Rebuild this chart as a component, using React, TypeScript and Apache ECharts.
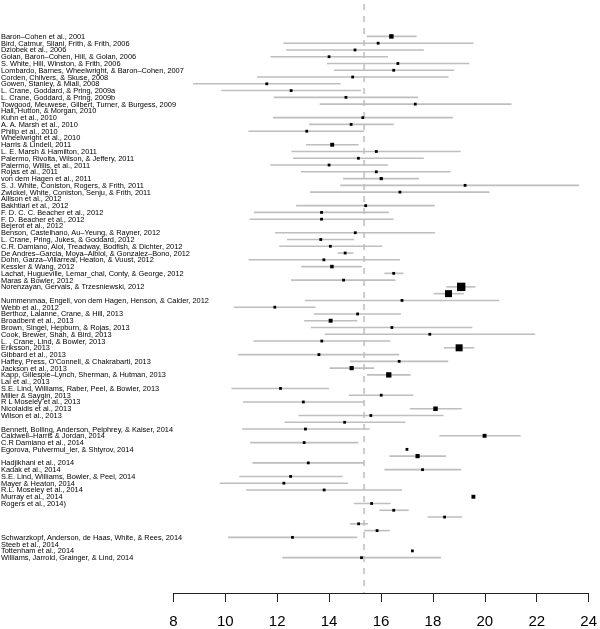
import React, { useEffect, useRef } from "react";
import * as echarts from "echarts";

const studies: string[] = [
  "Baron–Cohen et al., 2001",
  "Bird, Catmur, Silani, Frith, & Frith, 2006",
  "Dziobek et al., 2006",
  "Golan, Baron–Cohen, Hill, & Golan, 2006",
  "S. White, Hill, Winston, & Frith, 2006",
  "Lombardo, Barnes, Wheelwright, & Baron–Cohen, 2007",
  "Corden, Chilvers, & Skuse, 2008",
  "Gowen, Stanley, & Miall, 2008",
  "L. Crane, Goddard, & Pring, 2009a",
  "L. Crane, Goddard, & Pring, 2009b",
  "Towgood, Meuwese, Gilbert, Turner, & Burgess, 2009",
  "Hall, Hutton, & Morgan, 2010",
  "Kuhn et al., 2010",
  "A. A. Marsh et al., 2010",
  "Philip et al., 2010",
  "Wheelwright et al., 2010",
  "Harris & Lindell, 2011",
  "L. E. Marsh & Hamilton, 2011",
  "Palermo, Rivolta, Wilson, & Jeffery, 2011",
  "Palermo, Willis, et al., 2011",
  "Rojas et al., 2011",
  "von dem Hagen et al., 2011",
  "S. J. White, Coniston, Rogers, & Frith, 2011",
  "Zwickel, White, Coniston, Senju, & Frith, 2011",
  "Allison et al., 2012",
  "Bakhtiari et al., 2012",
  "F. D. C. C. Beacher et al., 2012",
  "F. D. Beacher et al., 2012",
  "Bejerot et al., 2012",
  "Benson, Castelhano, Au–Yeung, & Rayner, 2012",
  "L. Crane, Pring, Jukes, & Goddard, 2012",
  "C.R. Damiano, Aloi, Treadway, Bodfish, & Dichter, 2012",
  "De Andres–Garcia, Moya–Albiol, & Gonzalez–Bono, 2012",
  "Dohn, Garza–Villarreal, Heaton, & Vuust, 2012",
  "Kessler & Wang, 2012",
  "Lachat, Hugueville, Lemar_chal, Conty, & George, 2012",
  "Maras & Bowler, 2012",
  "Norenzayan, Gervais, & Trzesniewski, 2012",
  "",
  "Nummenmaa, Engell, von dem Hagen, Henson, & Calder, 2012",
  "Webb et al., 2012",
  "Berthoz, Lalanne, Crane, & Hill, 2013",
  "Broadbent et al., 2013",
  "Brown, Singel, Hepburn, & Rojas, 2013",
  "Cook, Brewer, Shah, & Bird, 2013",
  "L. , Crane, Lind, & Bowler, 2013",
  "Eriksson, 2013",
  "Gibbard et al., 2013",
  "Haffey, Press, O'Connell, & Chakrabarti, 2013",
  "Jackson et al., 2013",
  "Kapp, Gillespie–Lynch, Sherman, & Hutman, 2013",
  "Lai et al., 2013",
  "S.E. Lind, Williams, Raber, Peel, & Bowler, 2013",
  "Miller & Saygin, 2013",
  "R L Moseley et al., 2013",
  "Nicolaidis et al., 2013",
  "Wilson et al., 2013",
  "",
  "Bennett, Bolling, Anderson, Pelphrey, & Kaiser, 2014",
  "Caldwell–Harris & Jordan, 2014",
  "C.R Damiano et al., 2014",
  "Egorova, Pulvermul_ler, & Shtyrov, 2014",
  "",
  "Hadjikhani et al., 2014",
  "Kadak et al., 2014",
  "S.E. Lind, Williams, Bowler, & Peel, 2014",
  "Mayer & Heaton, 2014",
  "R.L. Moseley et al., 2014",
  "Murray et al., 2014",
  "Rogers et al., 2014)",
  "",
  "",
  "",
  "",
  "Schwarzkopf, Anderson, de Haas, White, & Rees, 2014",
  "Steeb et al., 2014",
  "Tottenham et al., 2014",
  "Williams, Jarrold, Grainger, & Lind, 2014",
];

const estimates: (number | null)[] = [
  16.4, 15.89, 15.0, 14.0, 16.65, 16.49, 14.91, 11.6, 12.54, 14.65,
  17.32, null, 15.3, 14.85, 13.14, null, 14.12, 15.82, 15.13, 14.0,
  15.82, 16.01, 19.24, 16.73, null, 15.41, 13.71, 13.71, null, 15.01,
  13.68, 14.05, 14.62, 13.8, 14.11, 16.49, 14.56, 19.09, 18.6, 16.81,
  11.91, 15.1, 14.06, 16.42, 17.88, 13.72, 19.01, 13.61, 16.7, 14.87,
  16.3, null, 12.13, 16.01, 13.01, 18.1, 15.61, 14.6, 13.09, 19.99,
  13.04, 17.0, 17.41, 13.2, 17.6, 12.52, 12.26, 13.81, 19.56, 15.64,
  16.49, 18.45, 15.14, 15.85, 12.59, null, 17.21, 15.25,
];

const lower: (number | null)[] = [
  15.45, 12.24, 12.35, 11.74, 13.92, 14.19, 11.22, 8.76, 9.85, 11.87,
  13.64, null, 11.84, 13.23, 10.89, null, 13.11, 12.55, 12.61, 11.74,
  12.92, 14.54, 14.43, 13.27, null, 12.73, 11.11, 10.94, null, 11.92,
  12.38, 12.08, 14.33, 10.9, 12.93, 16.13, 12.54, 18.52, 18.03, 13.07,
  10.33, 13.42, 13.04, 13.3, 13.83, 11.09, 18.42, 10.5, 14.81, 14.02,
  15.46, null, 10.24, 14.76, 10.68, 17.11, 12.82, 12.28, 10.65, 18.25,
  10.96, null, 16.33, 11.05, 16.13, 10.54, 9.79, 10.81, null, 14.95,
  15.94, 17.79, 14.81, 15.35, 10.11, null, null, 12.2,
];

const upper: (number | null)[] = [
  17.37, 19.56, 17.65, 16.27, 19.4, 18.82, 18.6, 14.44, 15.23, 17.43,
  21.03, null, 18.77, 16.49, 15.35, null, 15.14, 19.07, 17.65, 16.27,
  18.68, 17.46, 23.63, 20.18, null, 18.07, 16.3, 16.48, null, 18.08,
  14.97, 16.05, 14.94, 16.73, 15.26, 16.87, 16.56, 19.64, 19.19, 20.56,
  13.48, 16.77, 15.09, 19.52, 21.94, 16.36, 19.59, 16.7, 18.59, 15.73,
  17.14, null, 14.0, 17.25, 15.35, 19.11, 18.41, 16.94, 15.57, 21.38,
  15.13, null, 18.5, 15.35, 19.09, 14.52, 14.73, 16.81, null, 16.37,
  17.07, 19.12, 15.5, 16.34, 15.09, null, null, 18.31,
];

// relative study weights (marker size scale)
const weights: number[] = studies.map(() => 1);
const weightOverrides: [number, number][] = [
  [0, 1.6], [16, 1.4], [21, 1.15], [34, 1.25], [37, 3], [38, 2.5], [42, 1.4],
  [46, 2.5], [49, 1.5], [50, 1.9], [55, 1.6], [59, 1.4], [62, 1.5], [68, 1.4],
];
weightOverrides.forEach(([i, w]) => (weights[i] = w));

const xTicks = [8, 10, 12, 14, 16, 18, 20, 22, 24];
const referenceValue = 15.35;

const FONT = '"Liberation Sans", Arial, Helvetica, sans-serif';

export default function App() {
  const ref = useRef<HTMLDivElement>(null);

  useEffect(() => {
    if (!ref.current) return;
    const chart = echarts.init(ref.current, null, { renderer: "svg" });

    const labelData = studies.map((_, i) => [xTicks[0], i]);
    const ciData: number[][] = [];
    const ptData: number[][] = [];
    studies.forEach((_, i) => {
      const lo = lower[i];
      const hi = upper[i];
      const e = estimates[i];
      if (lo != null && hi != null) ciData.push([lo, i, hi]);
      if (e != null) ptData.push([e, i, weights[i]]);
    });

    chart.setOption({
      animation: false,
      grid: { left: 173.3, right: 8.3, top: 0, bottom: 36, containLabel: false },
      xAxis: {
        type: "value",
        min: xTicks[0],
        max: xTicks[xTicks.length - 1],
        interval: 2,
        position: "bottom",
        axisLine: { show: true, onZero: false, lineStyle: { color: "#222", width: 1 } },
        axisTick: { show: true, inside: false, length: 9, lineStyle: { color: "#222", width: 1 } },
        axisLabel: { fontSize: 15, color: "#000", margin: 20, fontFamily: FONT },
        splitLine: { show: false },
      },
      yAxis: {
        type: "value",
        inverse: true,
        min: -5.38,
        max: 82.22,
        show: false,
      },
      series: [
        {
          type: "line",
          data: [
            [referenceValue, -4.8],
            [referenceValue, 82.22],
          ],
          symbol: "none",
          lineStyle: { color: "#cccccc", width: 2, type: [6, 6] },
          z: 1,
          silent: true,
        },
        {
          type: "custom",
          data: ciData,
          encode: { x: 0, y: 1 },
          z: 2,
          silent: true,
          renderItem: (params: any, api: any) => {
            const a = api.coord([api.value(0), api.value(1)]);
            const b = api.coord([api.value(2), api.value(1)]);
            return {
              type: "line",
              shape: { x1: a[0], y1: a[1], x2: b[0], y2: b[1] },
              style: { stroke: "#bebebe", lineWidth: 1.6 },
            };
          },
        },
        {
          type: "custom",
          data: ptData,
          encode: { x: 0, y: 1 },
          z: 3,
          silent: true,
          renderItem: (params: any, api: any) => {
            const c = api.coord([api.value(0), api.value(1)]);
            const s = 2.8 * api.value(2);
            return {
              type: "rect",
              shape: { x: c[0] - s / 2, y: c[1] - s / 2, width: s, height: s },
              style: { fill: "#000" },
            };
          },
        },
        {
          type: "custom",
          data: labelData,
          encode: { x: 0, y: 1 },
          z: 4,
          silent: true,
          clip: false,
          renderItem: (params: any, api: any) => {
            const c = api.coord([api.value(0), api.value(1)]);
            return {
              type: "text",
              x: 1,
              y: c[1],
              style: {
                text: studies[params.dataIndex],
                fill: "#000",
                fontSize: 7.4,
                fontFamily: FONT,
                align: "left",
                verticalAlign: "middle",
              },
            };
          },
        },
      ],
    });

    return () => chart.dispose();
  }, []);

  return (
    <div
      ref={ref}
      style={{ position: "fixed", left: 0, top: 0, width: 600, height: 629 }}
    />
  );
}
